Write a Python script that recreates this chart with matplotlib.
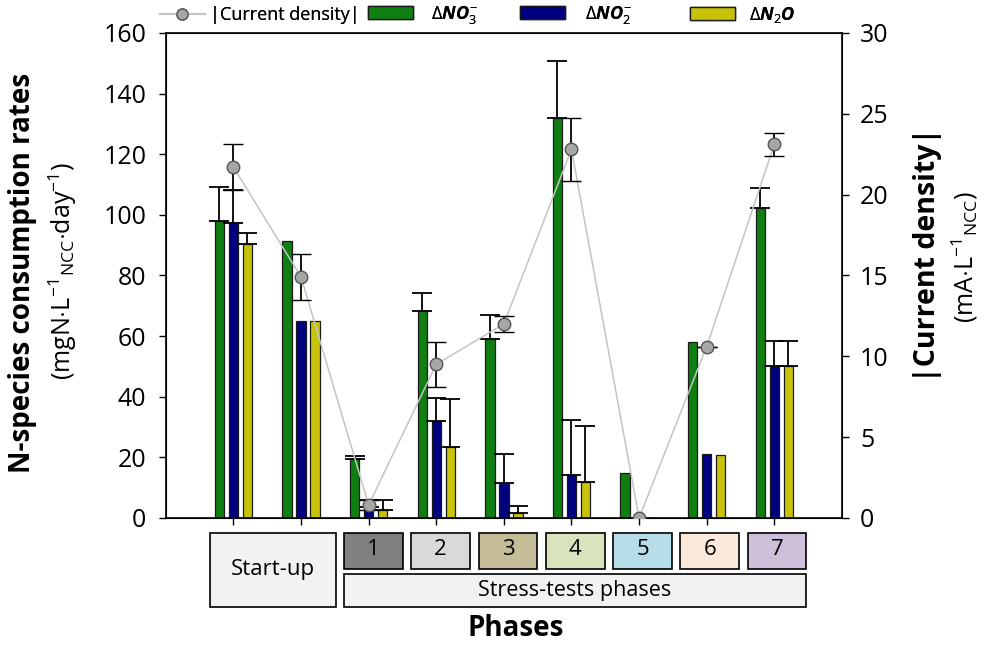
import numpy as np
import matplotlib
matplotlib.use("Agg")
import matplotlib.pyplot as plt
from matplotlib.patches import Rectangle
from matplotlib.lines import Line2D

plt.rcParams['font.family'] = ['Open Sans', 'DejaVu Sans']
plt.rcParams['mathtext.fontset'] = 'custom'
plt.rcParams['mathtext.rm'] = 'Open Sans'
plt.rcParams['mathtext.it'] = 'Open Sans:italic:bold'
plt.rcParams['mathtext.bf'] = 'Open Sans:bold'

# data
groups = np.arange(1, 10)
no3 = [97.8, 91.5, 19.4, 68.1, 59.0, 131.9, 14.7, 58.0, 102.2]
no3_err = [11.5, 0, 1.1, 6.2, 7.8, 18.7, 0, 0, 6.6]
no2 = [97.2, 64.8, 3.5, 32.0, 11.4, 14.0, 0, 21.1, 50.2]
no2_err = [11.0, 0, 2.4, 7.7, 9.6, 18.3, 0, 0, 8.2]
n2o = [90.3, 64.8, 2.6, 23.5, 1.5, 12.0, 0, 20.8, 50.2]
n2o_err = [3.7, 0, 3.3, 15.7, 2.6, 18.4, 0, 0, 8.2]
cur = [21.7, 14.9, 0.8, 9.5, 12.0, 22.8, 0.0, 10.6, 23.1]
cur_err = [1.4, 1.4, 0.3, 1.4, 0.5, 1.95, 0, 0, 0.7]

phase_labels = ['1', '2', '3', '4', '5', '6', '7']
phase_colors = ['#808080', '#d9d9d9', '#c4bd97', '#d8e4bc', '#b7dee8', '#fde9d9', '#ccc0da']

green = '#0f7f12'
navy = '#000080'
yellow = '#c8c30a'

fig = plt.figure(figsize=(9.87, 6.45), dpi=100)
ax = fig.add_axes([0.168, 0.197, 0.685, 0.752])

w = 0.14
off = 0.207
for vals, errs, col, dx in [(no3, no3_err, green, -off), (no2, no2_err, navy, 0), (n2o, n2o_err, yellow, off)]:
    x = groups + dx
    ax.bar(x, vals, width=w, color=col, edgecolor='#1a1a1a', linewidth=0.9, zorder=2)
    vals = np.array(vals)
    errs = np.array(errs)
    m = errs > 0
    ax.errorbar(x[m], vals[m], yerr=[np.zeros(m.sum()), errs[m]], fmt='none',
                ecolor='black', elinewidth=1.3, capsize=7, capthick=1.3, zorder=3)

ax.set_xlim(0, 10)
ax.set_ylim(0, 160)
ax.set_yticks(np.arange(0, 161, 20))
ax.set_xticks(groups)
ax.set_xticklabels([])
ax.tick_params(axis='y', labelsize=18, direction='out', length=5, width=1, pad=9)
ax.tick_params(axis='x', direction='out', length=5, width=1)
for s in ax.spines.values():
    s.set_linewidth(1.2)

ax2 = ax.twinx()
ax2.set_ylim(0, 30)
ax2.set_yticks(np.arange(0, 31, 5))
ax2.tick_params(axis='y', labelsize=18, direction='out', length=5, width=1, pad=8)
ax2.plot(groups, cur, color='#c4c4c4', linewidth=1.1, zorder=4)
ax2.errorbar(groups, cur, yerr=cur_err, fmt='o', color='#c4c4c4', markersize=9,
             markerfacecolor='#a6a6a6', markeredgecolor='#555555', markeredgewidth=1,
             ecolor='black', elinewidth=1.3, capsize=7, capthick=1.3, zorder=5)

# axis titles
fig.text(0.023, 0.577, 'N-species consumption rates', rotation=90, ha='center', va='center',
         fontsize=20, fontweight='bold')
fig.text(0.064, 0.58, r'(mgN$\cdot$L$^{-1}$$_{\mathrm{NCC}}$$\cdot$day$^{-1}$)', rotation=90,
         ha='center', va='center', fontsize=18)
fig.text(0.94, 0.605, '|Current density|', rotation=90, ha='center', va='center',
         fontsize=20.5, fontweight='bold')
fig.text(0.978, 0.602, r'(mA$\cdot$L$^{-1}$$_{\mathrm{NCC}}$)', rotation=90,
         ha='center', va='center', fontsize=18)

# phase boxes under the axis
tr = ax.get_xaxis_transform()
ax.add_patch(Rectangle((0.65, -0.184), 1.86, 0.153, transform=tr, clip_on=False,
                       facecolor='#f2f2f2', edgecolor='black', linewidth=1.2))
ax.text(1.58, -0.107, 'Start-up', transform=tr, ha='center', va='center', fontsize=16)
for i, (lab, col) in enumerate(zip(phase_labels, phase_colors)):
    xc = 3.07 + i * 0.995
    ax.add_patch(Rectangle((xc - 0.435, -0.105), 0.87, 0.074, transform=tr, clip_on=False,
                           facecolor=col, edgecolor='black', linewidth=1.2))
    ax.text(xc, -0.066, lab, transform=tr, ha='center', va='center', fontsize=16)
ax.add_patch(Rectangle((2.63, -0.184), 6.84, 0.069, transform=tr, clip_on=False,
                       facecolor='#f2f2f2', edgecolor='black', linewidth=1.2))
ax.text(6.05, -0.150, 'Stress-tests phases', transform=tr, ha='center', va='center', fontsize=15.5)
fig.text(0.522, 0.026, 'Phases', ha='center', va='center', fontsize=20, fontweight='bold')

# legend entries placed one by one along the top
entries = [
    (Line2D([0], [0], color='#c4c4c4', marker='o', markerfacecolor='#a6a6a6',
            markeredgecolor='#555555', markersize=8), '|Current density|', 0.162, 0.3),
    (Rectangle((0, 0), 1, 1, facecolor=green, edgecolor='#1a1a1a'), r'$\Delta NO_3^{-}$', 0.373, 1.0),
    (Rectangle((0, 0), 1, 1, facecolor=navy, edgecolor='#1a1a1a'), r'$\Delta NO_2^{-}$', 0.527, 1.1),
    (Rectangle((0, 0), 1, 1, facecolor=yellow, edgecolor='#1a1a1a'), r'$\Delta N_2O$', 0.699, 0.8),
]
for h, lab, xl, tp in entries:
    lg = fig.legend([h], [lab], loc='center left', bbox_to_anchor=(xl, 0.977), frameon=False,
                    fontsize=13, handlelength=2.5, handleheight=0.7, handletextpad=tp,
                    borderpad=0, borderaxespad=0)
    fig.add_artist(lg)

fig.savefig('out.png', dpi=100)
